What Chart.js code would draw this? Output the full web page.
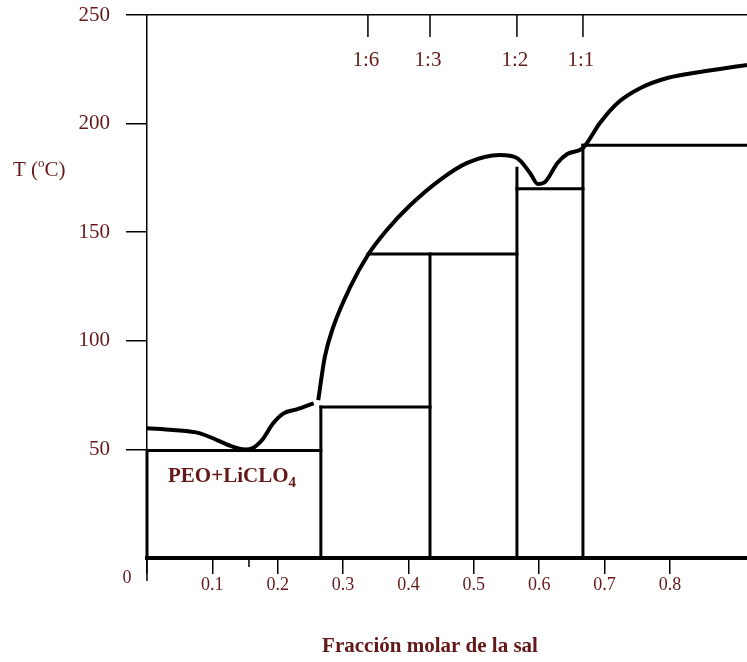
<!DOCTYPE html>
<html><head><meta charset="utf-8">
<script src="https://cdn.jsdelivr.net/npm/chart.js@4"></script>
<style>html,body{margin:0;padding:0;background:#fff;} #wrap{width:747px;height:662px;}</style>
</head><body><div id="wrap"><canvas id="c" width="747" height="662"></canvas></div>
<script>
// ---- data ----
const xTickValues = [0, 0.1, 0.2, 0.3, 0.4, 0.5, 0.6, 0.7, 0.8];
const yTickValues = [50, 100, 150, 200, 250];
const topTickValues = [0.338, 0.433, 0.566, 0.667];
const topTickLabels = ['1:6', '1:3', '1:2', '1:1'];
const eutecticMarkX = 0.156;

const lowBranchX = [0, 0.040, 0.081, 0.107, 0.132, 0.150, 0.161, 0.176, 0.193, 0.209, 0.229, 0.255];
const lowBranchT = [59.7, 58.9, 57.4, 54.3, 51.2, 50.0, 50.5, 54.3, 62.0, 66.6, 68.4, 71.2];

const highBranchX = [0.262, 0.272, 0.285, 0.311, 0.338, 0.367, 0.403, 0.448, 0.490, 0.540, 0.566, 0.586, 0.598, 0.609, 0.628, 0.643, 0.667, 0.693, 0.720, 0.755, 0.796, 0.846, 0.918];
const highBranchT = [72.7, 92.5, 106.4, 124.8, 139.5, 151.0, 162.5, 174.0, 181.9, 185.5, 184.2, 177.3, 172.2, 173.1, 181.9, 186.0, 188.8, 200.3, 209.5, 216.4, 221.0, 223.8, 227.0];

const peoBoxX = [0, 0, 0.266];
const peoBoxT = [0, 49.5, 49.5];

const verticalX = [0.266, 0.433, 0.566, 0.667];
const verticalTop = [69.5, 140, 179.5, 190];

const plateauT = [69.5, 140, 170, 190];
const plateauStart = [0.266, 0.338, 0.566, 0.667];
const plateauEnd = [0.433, 0.566, 0.667, 0.918];

const xMax = 0.918;
const TXT = '#641818';
const SERIF = '"Liberation Serif", "Times New Roman", serif';

// ---- datasets ----
const zip = (xs, ys) => xs.map((v, i) => ({x: v, y: ys[i]}));
const lineStyle = (w) => ({showLine: true, borderColor: '#000', borderWidth: w, pointRadius: 0, fill: false, clip: false, borderCapStyle: 'square'});
const datasets = [];
datasets.push(Object.assign({data: zip(peoBoxX, peoBoxT)}, lineStyle(3)));
verticalX.forEach((v, i) => datasets.push(Object.assign({data: [{x: v, y: 0}, {x: v, y: verticalTop[i]}]}, lineStyle(3))));
plateauT.forEach((t, i) => datasets.push(Object.assign({data: [{x: plateauStart[i], y: t}, {x: plateauEnd[i], y: t}]}, lineStyle(3))));
datasets.push(Object.assign({data: zip(lowBranchX, lowBranchT), cubicInterpolationMode: 'monotone'}, lineStyle(4), {borderCapStyle: 'butt'}));
datasets.push(Object.assign({data: zip(highBranchX, highBranchT), cubicInterpolationMode: 'monotone'}, lineStyle(4), {borderCapStyle: 'butt'}));

const annot = {
  id: 'annot',
  afterDraw(chart) {
    const {ctx, chartArea: a, scales: {x}} = chart;
    ctx.save();
    ctx.strokeStyle = '#000';
    ctx.lineWidth = 1.5;
    const x0 = x.getPixelForValue(0);
    ctx.beginPath(); ctx.moveTo(x0, a.bottom); ctx.lineTo(x0, a.bottom + 23); ctx.stroke();
    const xe = x.getPixelForValue(eutecticMarkX);
    ctx.beginPath(); ctx.moveTo(xe, a.bottom); ctx.lineTo(xe, a.bottom + 9); ctx.stroke();

    ctx.fillStyle = TXT;
    ctx.font = '21px ' + SERIF;
    ctx.textAlign = 'center';
    ctx.textBaseline = 'middle';
    topTickValues.forEach((v, i) => {
      const px = x.getPixelForValue(v);
      ctx.beginPath(); ctx.moveTo(px, a.top); ctx.lineTo(px, a.top + 22); ctx.stroke();
      ctx.fillText(topTickLabels[i], px - 2, a.top + 45);
    });
    ctx.font = '18px ' + SERIF;
    ctx.fillText('0', x0 - 20, a.bottom + 20);

    // y axis title
    ctx.textAlign = 'left';
    ctx.textBaseline = 'alphabetic';
    ctx.font = '21px ' + SERIF;
    let tx = 13;
    ctx.fillText('T (', tx, 176); tx += ctx.measureText('T (').width;
    ctx.font = '13px ' + SERIF;
    ctx.fillText('o', tx, 167); tx += ctx.measureText('o').width;
    ctx.font = '21px ' + SERIF;
    ctx.fillText('C)', tx, 176);

    // region label
    ctx.font = 'bold 21px ' + SERIF;
    let px = 168;
    ctx.fillText('PEO+LiCLO', px, 482); px += ctx.measureText('PEO+LiCLO').width;
    ctx.font = 'bold 15px ' + SERIF;
    ctx.fillText('4', px, 487);

    // x title
    ctx.font = 'bold 21px ' + SERIF;
    ctx.textAlign = 'center';
    ctx.fillText('Fracción molar de la sal', 430, 652);
    ctx.restore();
  }
};

new Chart(document.getElementById('c'), {
  type: 'scatter',
  data: {datasets},
  plugins: [annot],
  options: {
    responsive: false,
    animation: false,
    layout: {padding: 0},
    plugins: {legend: {display: false}, tooltip: {enabled: false}},
    scales: {
      x: {
        type: 'linear', position: 'bottom', min: 0, max: xMax,
        afterBuildTicks: s => { s.ticks = xTickValues.map(v => ({value: v})); },
        afterFit: s => { s.height = 104; s.paddingLeft = 0; s.paddingRight = 0; },
        grid: {drawOnChartArea: false, color: '#000', lineWidth: 1.5, tickLength: 16},
        border: {color: '#000', width: 4},
        ticks: {font: {family: SERIF, size: 18}, color: TXT, padding: 0, maxRotation: 0, autoSkip: false,
                callback: v => v === 0 ? '' : v.toFixed(1)}
      },
      x2: {
        type: 'linear', position: 'top', min: 0, max: xMax,
        afterFit: s => { s.height = 15; s.paddingLeft = 0; s.paddingRight = 0; },
        grid: {drawOnChartArea: false, drawTicks: false},
        border: {color: '#000', width: 1.5},
        ticks: {display: false}
      },
      y: {
        type: 'linear', position: 'left', min: 0, max: 250,
        afterBuildTicks: s => { s.ticks = yTickValues.map(v => ({value: v})); },
        afterFit: s => { s.width = 147; s.paddingTop = 0; s.paddingBottom = 0; },
        grid: {drawOnChartArea: false, color: '#000', lineWidth: 1.5, tickLength: 21},
        border: {color: '#000', width: 1.5},
        ticks: {font: {family: SERIF, size: 21}, color: TXT, padding: 16}
      }
    }
  }
});
</script>
</body></html>
